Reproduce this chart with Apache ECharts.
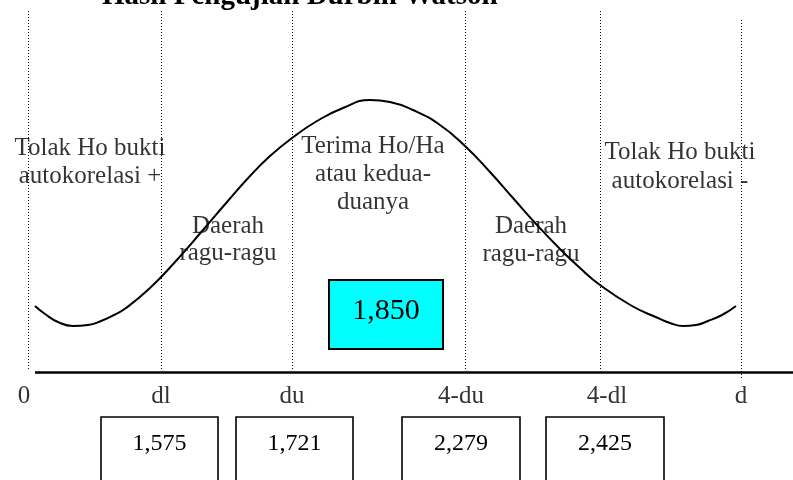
<!DOCTYPE html>
<html>
<head>
<meta charset="utf-8">
<script src="https://cdn.jsdelivr.net/npm/echarts@6/dist/echarts.min.js"></script>
<style>
  html, body { margin: 0; padding: 0; background: #fff; }
  #main { width: 793px; height: 480px; }
</style>
</head>
<body>
<div id="main"></div>
<script>
// ---- data ----
var titleText = 'Hasil Pengujian Durbin Watson';
var boundaryLabels = ['0', 'dl', 'du', '4-du', '4-dl', 'd'];
var criticalValues = ['1,575', '1,721', '2,279', '2,425'];   // dl, du, 4-du, 4-dl
var dwValue = '1,850';
var regionTexts = [
    'Tolak Ho bukti\nautokorelasi +',
    'Daerah\nragu-ragu',
    'Terima Ho/Ha\natau kedua-\nduanya',
    'Daerah\nragu-ragu',
    'Tolak Ho bukti\nautokorelasi -'
];
// kurva distribusi (satuan skema)
var curveX = [35, 45, 58, 73, 88, 101, 114, 126, 150, 175, 203, 227, 250, 270, 292, 317, 343, 370,
              390, 413, 440, 465, 490, 513, 537, 560, 580, 600, 632, 658, 670, 683, 696, 708, 722, 736];
var curveY = [66, 58, 50, 46, 47, 51, 57, 64, 84, 110, 142, 170, 196, 216, 234, 251, 264, 272,
              270, 262, 247, 226, 200, 174, 147, 123, 104, 87, 66, 54, 49, 46, 47, 51, 57, 66];

// ---- layout (posisi skema) ----
var boundaryPos = [28, 161, 292, 465, 600, 741];
var boundaryTop = [363, 363, 363, 363, 363, 353];
var boundaryBottom = [3, 3, 3, 3, 3, -6];
var boxSpan = [[101, 218], [236, 353], [402, 520], [546, 664]];
var regionPos = [[90, 210], [228, 132.5], [373, 198], [531, 132], [680, 205.5]];
var regionLineHeight = [28, 27, 28, 28, 29];
var labelShift = [-4, 0, 0, -4, 7, 0];

var font = "'Liberation Serif', 'Times New Roman', serif";

var myChart = echarts.init(document.getElementById('main'));

var curveData = curveX.map(function (x, i) { return [x, curveY[i]]; });

var dottedLines = boundaryPos.map(function (x, i) {
    return [
        { coord: [x, boundaryBottom[i]], lineStyle: { type: [1, 2], width: 1, color: '#000' } },
        { coord: [x, boundaryTop[i]] }
    ];
});
dottedLines.push([
    { coord: [35, 0], lineStyle: { type: 'solid', width: 2.5, color: '#000' } },
    { coord: [793, 0] }
]);

var textData = regionTexts.map(function (t, i) {
    return {
        value: regionPos[i],
        label: { formatter: t, lineHeight: regionLineHeight[i] }
    };
});

var axisLabelData = boundaryLabels.map(function (t, i) {
    return { value: [boundaryPos[i] + labelShift[i], -24], label: { formatter: t } };
});

var boxData = criticalValues.map(function (v, i) {
    return [boxSpan[i][0], boxSpan[i][1], -45, -120];
});

function renderBox(params, api) {
    var p0 = api.coord([api.value(0), api.value(2)]);
    var p1 = api.coord([api.value(1), api.value(3)]);
    var textPt = api.coord([(api.value(0) + api.value(1)) / 2, -72]);
    return {
        type: 'group',
        children: [
            {
                type: 'rect',
                shape: { x: p0[0], y: p0[1], width: p1[0] - p0[0], height: p1[1] - p0[1] },
                style: { fill: '#fff', stroke: '#000', lineWidth: 1.6 }
            },
            {
                type: 'text',
                x: textPt[0], y: textPt[1],
                style: {
                    text: criticalValues[params.dataIndex],
                    font: '24px ' + font, fill: '#000',
                    align: 'center', verticalAlign: 'middle'
                }
            }
        ]
    };
}

function renderDw(params, api) {
    var p0 = api.coord([329, 92]);
    var p1 = api.coord([443, 23]);
    var textPt = api.coord([386, 61]);
    return {
        type: 'group',
        children: [
            {
                type: 'rect',
                shape: { x: p0[0], y: p0[1], width: p1[0] - p0[0], height: p1[1] - p0[1] },
                style: { fill: '#00ffff', stroke: '#000', lineWidth: 2 }
            },
            {
                type: 'text',
                x: textPt[0], y: textPt[1],
                style: {
                    text: dwValue, font: '30px ' + font, fill: '#000',
                    align: 'center', verticalAlign: 'middle'
                }
            }
        ]
    };
}

var labelStyle = {
    show: true, position: 'inside',
    fontFamily: font, fontSize: 25, color: '#000', align: 'center',
    textBorderWidth: 0, textBorderColor: 'transparent'
};

var option = {
    backgroundColor: '#fff',
    animation: false,
    title: {
        text: titleText,
        left: 102,
        top: -18,
        padding: 0,
        textStyle: { fontFamily: font, fontWeight: 'bold', fontSize: 29, color: '#000' }
    },
    grid: { left: 0, right: 0, top: 0, bottom: 0 },
    xAxis: { type: 'value', min: 0, max: 793, show: false },
    yAxis: { type: 'value', min: -108, max: 372, show: false },
    series: [
        {
            // garis sumbu + garis batas titik-titik
            type: 'line',
            data: [],
            silent: true,
            markLine: {
                symbol: 'none',
                silent: true,
                animation: false,
                label: { show: false },
                data: dottedLines
            }
        },
        {
            type: 'line',
            data: curveData,
            smooth: 0.5,
            symbol: 'none',
            lineStyle: { color: '#000', width: 2 },
            z: 3
        },
        {
            type: 'custom',
            data: [[386, 61]],
            renderItem: renderDw,
            z: 4
        },
        {
            type: 'custom',
            data: boxData,
            renderItem: renderBox,
            z: 4
        },
        {
            type: 'scatter',
            data: textData,
            symbolSize: 0,
            itemStyle: { color: 'transparent' },
            label: labelStyle,
            z: 5
        },
        {
            type: 'scatter',
            data: axisLabelData,
            symbolSize: 0,
            itemStyle: { color: 'transparent' },
            label: labelStyle,
            z: 5
        }
    ]
};
myChart.setOption(option);
</script>
</body>
</html>
